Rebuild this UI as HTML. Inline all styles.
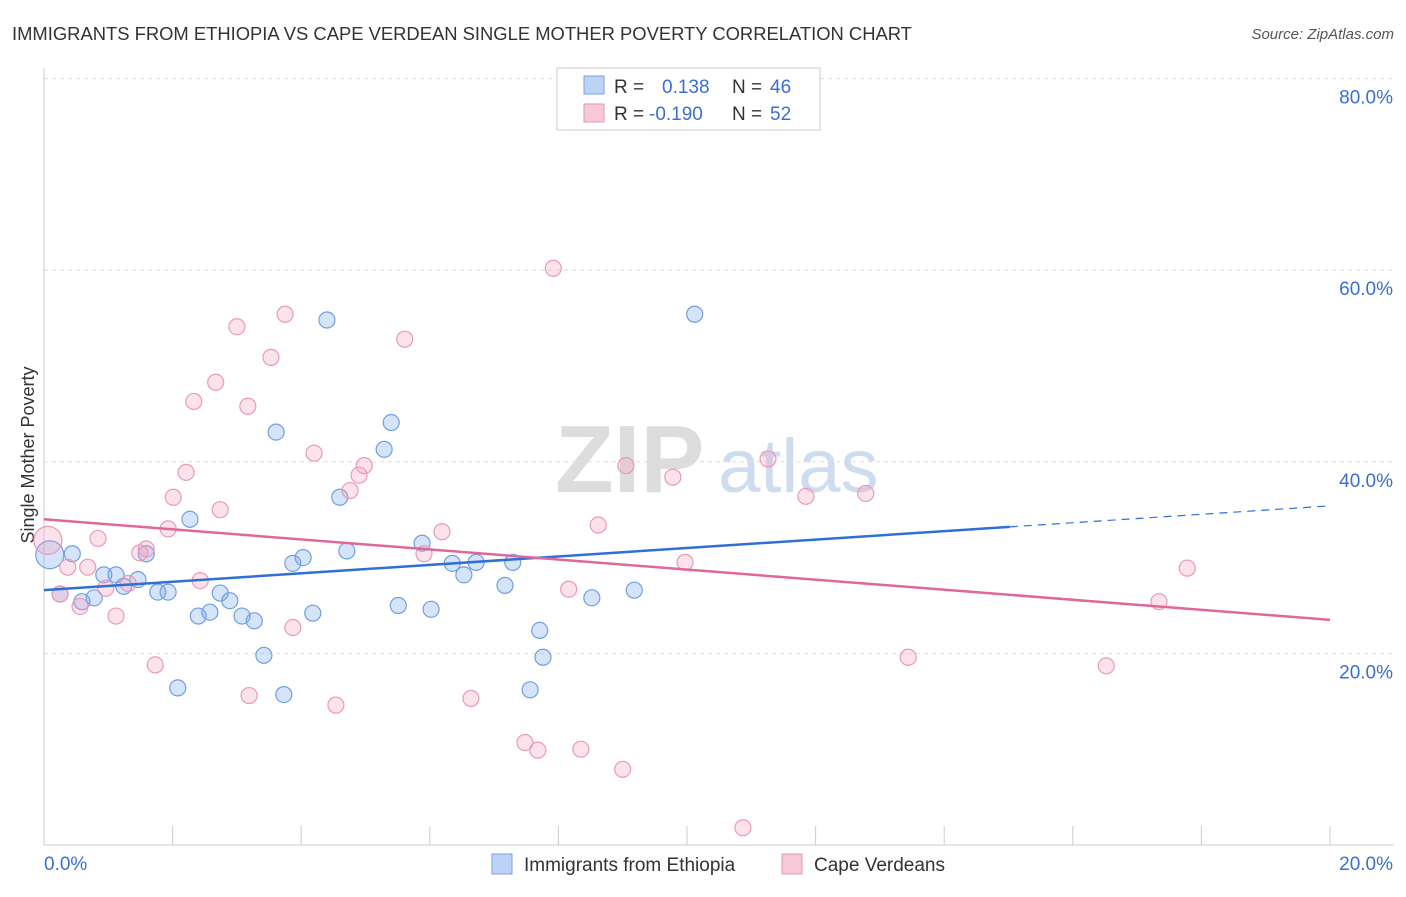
<!DOCTYPE html>
<html><head><meta charset="utf-8"><style>
body{margin:0;background:#fff;font-family:"Liberation Sans",sans-serif}
svg text{font-family:"Liberation Sans",sans-serif}
</style></head><body>
<svg id="c" width="1406" height="892">
<text x="12" y="40" font-size="18.4" fill="#333">IMMIGRANTS FROM ETHIOPIA VS CAPE VERDEAN SINGLE MOTHER POVERTY CORRELATION CHART</text>
<text x="1394" y="39" font-size="15" fill="#555" text-anchor="end" font-style="italic">Source: ZipAtlas.com</text>
<text x="555" y="492" font-size="96" fill="#ddd" font-family="Liberation Serif" font-weight="bold">ZIP</text>
<text x="718" y="492" font-size="76" fill="#cfdcf0">atlas</text>
<text transform="translate(34,455) rotate(-90)" font-size="18" fill="#333" text-anchor="middle">Single Mother Poverty</text>
<g id="grid"></g><g id="marks"></g>
<g>
<rect x="557" y="68" width="263" height="62" fill="#fff" stroke="#ccc"/>
<rect x="584" y="76" width="20" height="18" fill="#bcd3f5" stroke="#7aa3e0"/>
<rect x="584" y="104" width="20" height="18" fill="#f8c8d8" stroke="#e79ab5"/>
<text x="614" y="93" font-size="19" fill="#333">R = </text><text x="662" y="93" font-size="19" fill="#3a6fd0">0.138</text>
<text x="732" y="93" font-size="19" fill="#333">N = </text><text x="770" y="93" font-size="19" fill="#3a6fd0">46</text>
<text x="614" y="120" font-size="19" fill="#333">R = </text><text x="649" y="120" font-size="19" fill="#3a6fd0">-0.190</text>
<text x="732" y="120" font-size="19" fill="#333">N = </text><text x="770" y="120" font-size="19" fill="#3a6fd0">52</text>
</g>
<g>
<rect x="492" y="854" width="20" height="20" fill="#bcd3f5" stroke="#7aa3e0"/>
<text x="524" y="871" font-size="19" fill="#333">Immigrants from Ethiopia</text>
<rect x="782" y="854" width="20" height="20" fill="#f8c8d8" stroke="#e79ab5"/>
<text x="814" y="871" font-size="19" fill="#333">Cape Verdeans</text>
</g>
</svg>
<script>
const yTicks=[20,40,60,80];
const xTickLabels=["0.0%","20.0%"];
const blueX=[0.09,0.44,0.25,0.59,0.78,0.93,1.12,1.24,1.46,1.59,1.77,1.93,2.08,2.27,2.40,2.58,2.74,2.89,3.08,3.27,3.42,3.61,3.73,3.87,4.03,4.18,4.40,4.60,4.71,5.29,5.40,5.51,5.88,6.02,6.35,6.53,6.72,7.17,7.29,7.71,7.76,7.56,8.52,9.18,10.12];
const blueY=[30.3,30.4,26.2,25.4,25.8,28.2,28.2,27.0,27.7,30.4,26.4,26.4,16.4,34.0,23.9,24.3,26.3,25.5,23.9,23.4,19.8,43.1,15.7,29.4,30.0,24.2,54.8,36.3,30.7,41.3,44.1,25.0,31.5,24.6,29.4,28.2,29.5,27.1,29.5,22.4,19.6,16.2,25.8,26.6,55.4];
const pinkX=[0.06,0.25,0.37,0.56,0.68,0.84,0.96,1.12,1.31,1.49,1.59,1.73,1.93,2.01,2.21,2.33,2.43,2.67,2.74,3.00,3.17,3.19,3.53,3.75,3.87,4.20,4.54,4.76,4.90,4.98,5.61,5.91,6.19,6.64,7.48,7.68,7.92,8.16,8.35,8.62,9.00,9.05,9.78,9.97,10.87,11.26,11.85,12.78,13.44,16.52,17.34,17.78];
const pinkY=[31.8,26.2,29.0,24.9,29.0,32.0,26.8,23.9,27.3,30.5,30.9,18.8,33.0,36.3,38.9,46.3,27.6,48.3,35.0,54.1,45.8,15.6,50.9,55.4,22.7,40.9,14.6,37.0,38.6,39.6,52.8,30.4,32.7,15.3,10.7,9.9,60.2,26.7,10.0,33.4,7.9,39.6,38.4,29.5,1.8,40.3,36.4,36.7,19.6,18.7,25.4,28.9];
const blueTrend=[26.6,35.4], pinkTrend=[34.0,23.5], blueSolidEnd=15.02;
const X=v=>44+v*64.3, Y=v=>845-v*9.58;
const NS="http://www.w3.org/2000/svg";
function mk(t,a,p){const e=document.createElementNS(NS,t);for(const k in a)e.setAttribute(k,a[k]);p.appendChild(e);return e;}
const g=document.getElementById('grid'),m=document.getElementById('marks');
yTicks.forEach(t=>{const l=mk('line',{x1:44,x2:1394,y1:Y(t),y2:Y(t),stroke:'#ddd','stroke-dasharray':'4,4'},g);


const tx=mk('text',{x:1393,y:Y(t)+25,'font-size':19,fill:'#3a6fd0','text-anchor':'end'},g);tx.textContent=t.toFixed(1)+'%';

});
mk('line',{x1:44,x2:1394,y1:845,y2:845,stroke:'#ccc'},g);
mk('line',{x1:44,x2:44,y1:68,y2:845,stroke:'#ccc'},g);
for(let i=0;i<=10;i++){mk('line',{x1:X(i*2),x2:X(i*2),y1:826,y2:845,stroke:'#ccc'},g);}
xTickLabels.forEach((s,i)=>{const tx=mk('text',{x:i?1393:44,y:870,'font-size':19,fill:'#3a6fd0','text-anchor':i?'end':'start'},g);tx.textContent=s;

});
function pts(xs,ys,fill,stroke,name){xs.forEach((x,i)=>{const c=mk('circle',{cx:X(x),cy:Y(ys[i]),r:i==0?14:8,fill:fill,stroke:stroke,'stroke-width':1.2},m);

});}
pts(blueX,blueY,'rgba(120,165,235,0.3)','#6f9fe0','ethiopia-point');
pts(pinkX,pinkY,'rgba(245,160,190,0.3)','#e99ab6','cape-verdean-point');
const bt=v=>blueTrend[0]+(blueTrend[1]-blueTrend[0])*v/20;
let l=mk('line',{x1:X(0),y1:Y(bt(0)),x2:X(blueSolidEnd),y2:Y(bt(blueSolidEnd)),stroke:'#2f6fd6','stroke-width':2.5},m);


l=mk('line',{x1:X(blueSolidEnd),y1:Y(bt(blueSolidEnd)),x2:X(20),y2:Y(bt(20)),stroke:'#2f6fd6','stroke-width':1.2,'stroke-dasharray':'8,6'},m);


l=mk('line',{x1:X(0),y1:Y(pinkTrend[0]),x2:X(20),y2:Y(pinkTrend[1]),stroke:'#e0679a','stroke-width':2.5},m);


</script>
</body></html>
